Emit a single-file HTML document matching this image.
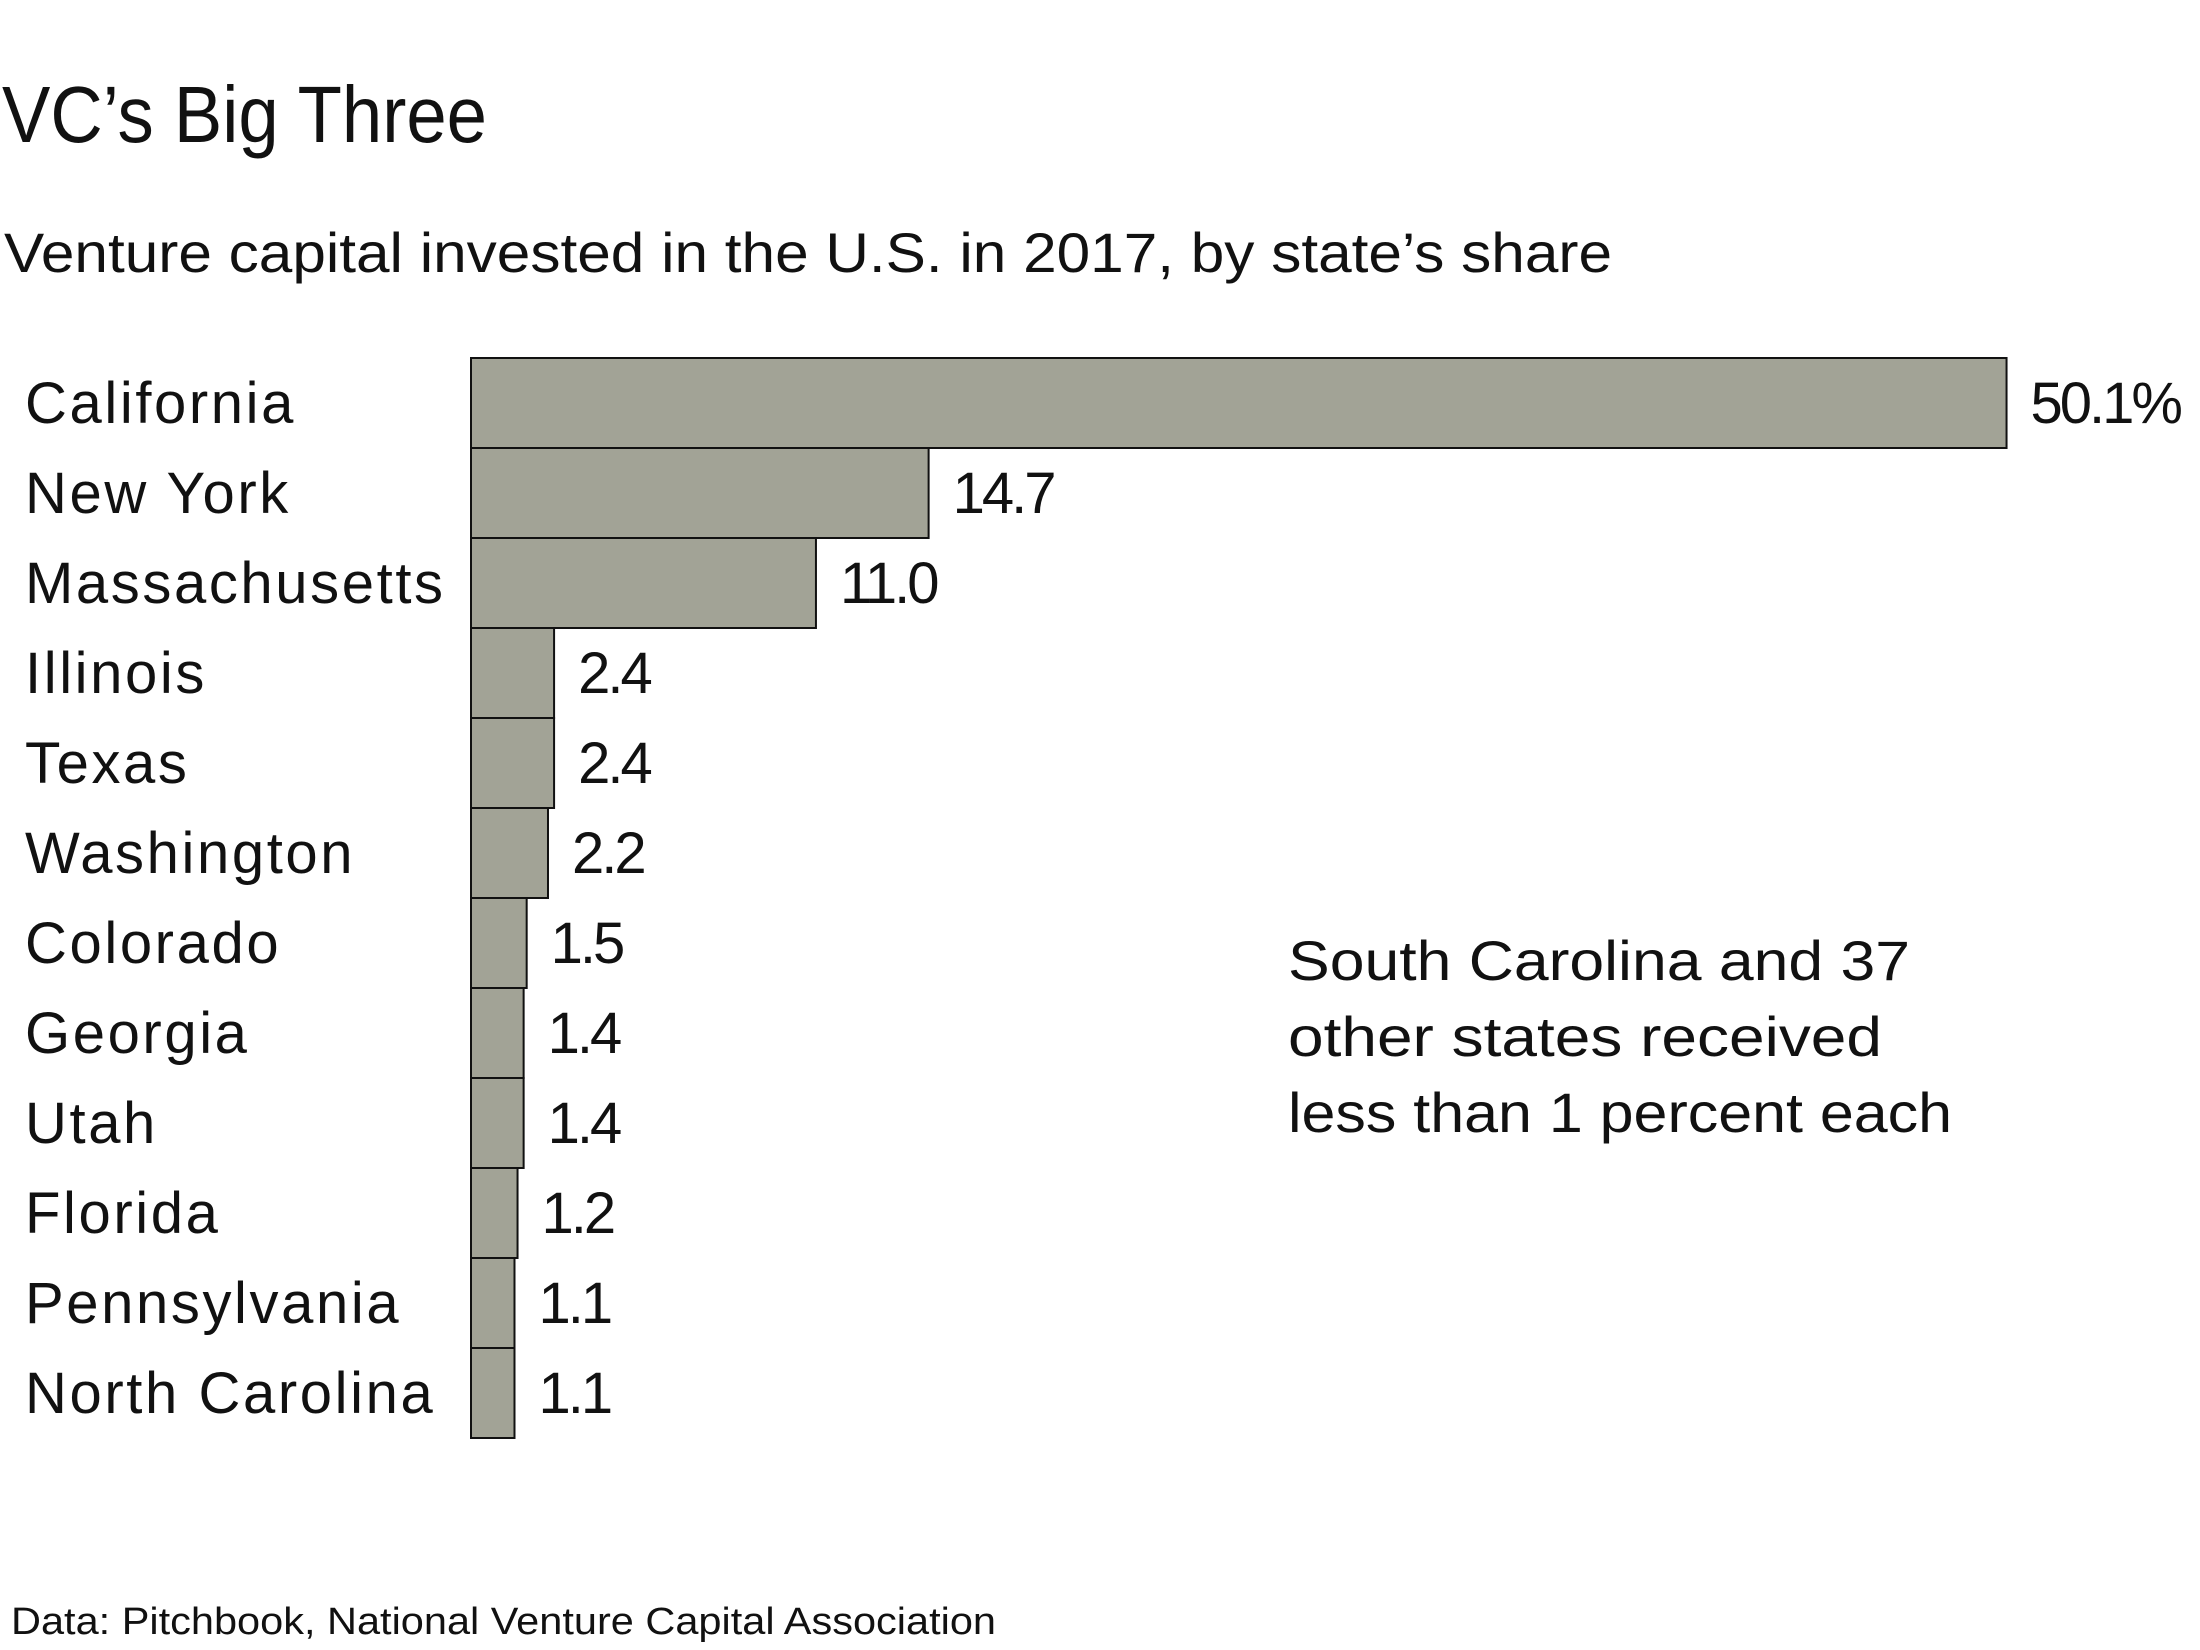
<!DOCTYPE html>
<html><head><meta charset="utf-8"><style>
html,body{margin:0;padding:0;background:#fff}
svg{display:block;font-family:"Liberation Sans",Arial,sans-serif}
</style></head><body>
<svg id="chart" width="2200" height="1650" viewBox="0 0 2200 1650">
<text x="2" y="142" font-size="80" fill="#111" textLength="485" lengthAdjust="spacingAndGlyphs">VC’s Big Three</text>
<text x="4" y="272" font-size="56" fill="#111" textLength="1608" lengthAdjust="spacingAndGlyphs">Venture capital invested in the U.S. in 2017, by state’s share</text>
<g id="bars"></g>
<g font-size="56" fill="#111">
<text x="1288" y="980" textLength="622" lengthAdjust="spacingAndGlyphs">South Carolina and 37</text>
<text x="1288" y="1056" textLength="594" lengthAdjust="spacingAndGlyphs">other states received</text>
<text x="1288" y="1132" textLength="664" lengthAdjust="spacingAndGlyphs">less than 1 percent each</text>
</g>
<text x="11" y="1634" font-size="38" fill="#111" textLength="985" lengthAdjust="spacingAndGlyphs">Data: Pitchbook, National Venture Capital Association</text>
</svg>
<script>
const categories=["California","New York","Massachusetts","Illinois","Texas","Washington","Colorado","Georgia","Utah","Florida","Pennsylvania","North Carolina"];
const values=[50.1,14.7,11.0,2.4,2.4,2.2,1.5,1.4,1.4,1.2,1.1,1.1];
const valueLabels=["50.1%","14.7","11.0","2.4","2.4","2.2","1.5","1.4","1.4","1.2","1.1","1.1"];
const NS="http://www.w3.org/2000/svg";
const x0=471, base=10, pxPerUnit=30.45, y0=358, band=90;
function xScale(v){return x0+base+v*pxPerUnit;}
function yScale(i){return y0+i*band;}
const g=document.getElementById('bars');
categories.forEach((c,i)=>{
  const r=document.createElementNS(NS,'rect');
  
  
  r.setAttribute('x',x0);r.setAttribute('y',yScale(i));
  r.setAttribute('width',xScale(values[i])-x0);r.setAttribute('height',band);
  r.setAttribute('fill','#a2a396');r.setAttribute('stroke','#111');r.setAttribute('stroke-width','2');
  g.appendChild(r);
  const t=document.createElementNS(NS,'text');
  
  
  t.setAttribute('x',25);t.setAttribute('y',yScale(i)+band/2+20);
  t.setAttribute('font-size','58');t.setAttribute('fill','#111');
  t.setAttribute('letter-spacing','2.6');
  t.textContent=c;g.appendChild(t);
  const v=document.createElementNS(NS,'text');
  
  
  v.setAttribute('x',xScale(values[i])+24);v.setAttribute('y',yScale(i)+band/2+20);
  v.setAttribute('font-size','58');v.setAttribute('fill','#111');
  v.setAttribute('letter-spacing','-3');
  v.textContent=valueLabels[i];g.appendChild(v);
});
</script>
</body></html>
